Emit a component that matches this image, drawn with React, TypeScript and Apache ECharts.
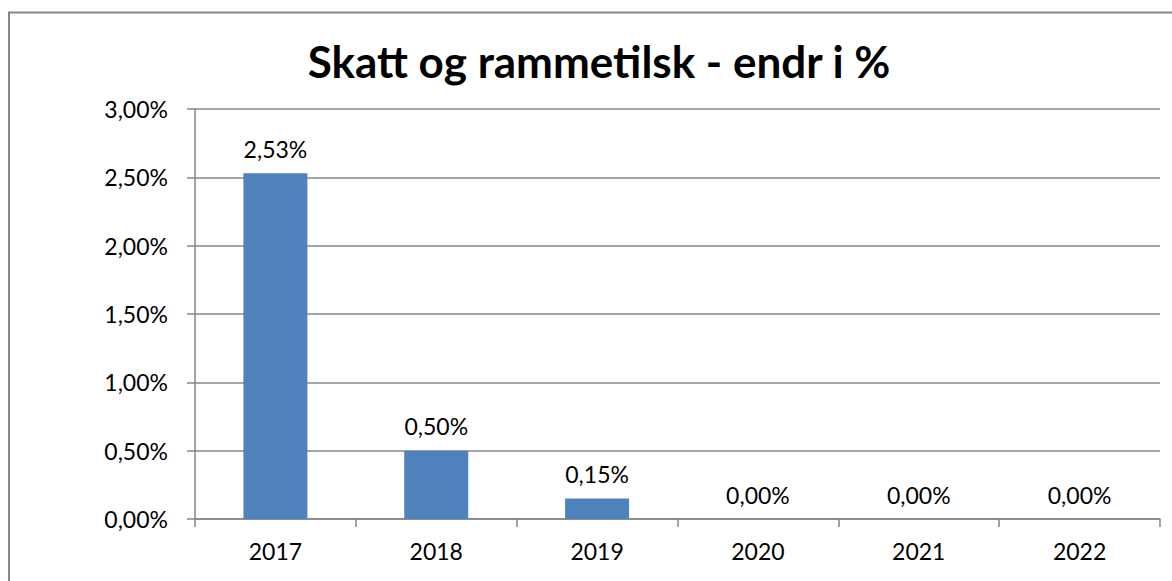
import React, { useEffect, useRef } from "react";
import * as echarts from "echarts";

const categories = ["2017", "2018", "2019", "2020", "2021", "2022"];
const values = [2.53, 0.5, 0.15, 0.0, 0.0, 0.0];
const titleText = "Skatt og rammetilsk - endr i %";

const fmt = (v: number) => v.toFixed(2).replace(".", ",") + "%";

export default function App() {
  const ref = useRef<HTMLDivElement>(null);
  useEffect(() => {
    const chart = echarts.init(ref.current!, undefined, { renderer: "svg" });
    const font = "Lato, 'Open Sans', sans-serif";
    chart.setOption({
      animation: false,
      backgroundColor: "#ffffff",
      textStyle: { fontFamily: font },
      graphic: [
        {
          type: "rect",
          shape: { x: 9, y: 12.5, width: 1300, height: 700 },
          style: { fill: "none", stroke: "#868686", lineWidth: 2 },
          silent: true,
        },
      ],
      title: {
        text: titleText,
        left: 594,
        textAlign: "center",
        top: 34,
        textStyle: { fontFamily: font, fontSize: 44, fontWeight: "bold", color: "#000" },
      },
      grid: { left: 195, right: 12, top: 109, bottom: 62 },
      xAxis: {
        type: "category",
        data: categories,
        axisLine: { lineStyle: { color: "#868686", width: 1.5 } },
        axisTick: { show: true, length: 8, alignWithLabel: false, lineStyle: { color: "#868686", width: 1.5 } },
        axisLabel: { color: "#000", fontSize: 23, margin: 20, fontFamily: font },
      },
      yAxis: {
        type: "value",
        min: 0,
        max: 3,
        interval: 0.5,
        axisLine: { show: true, lineStyle: { color: "#868686", width: 1.5 } },
        axisTick: { show: true, length: 8, lineStyle: { color: "#868686", width: 1.5 } },
        splitLine: { lineStyle: { color: "#868686", width: 1.5 } },
        axisLabel: {
          color: "#000",
          fontSize: 23,
          margin: 27,
          fontFamily: font,
          formatter: (v: number) => fmt(v),
        },
      },
      series: [
        {
          type: "bar",
          data: values,
          barWidth: 64,
          itemStyle: { color: "#4F81BD" },
          label: {
            show: true,
            position: "top",
            distance: 13,
            color: "#000",
            fontSize: 23,
            fontFamily: font,
            formatter: (p: any) => fmt(p.value),
          },
        },
      ],
    });
    return () => chart.dispose();
  }, []);
  return (
    <div
      ref={ref}
      style={{ position: "fixed", left: 0, top: 0, width: 1172, height: 581 }}
    />
  );
}
